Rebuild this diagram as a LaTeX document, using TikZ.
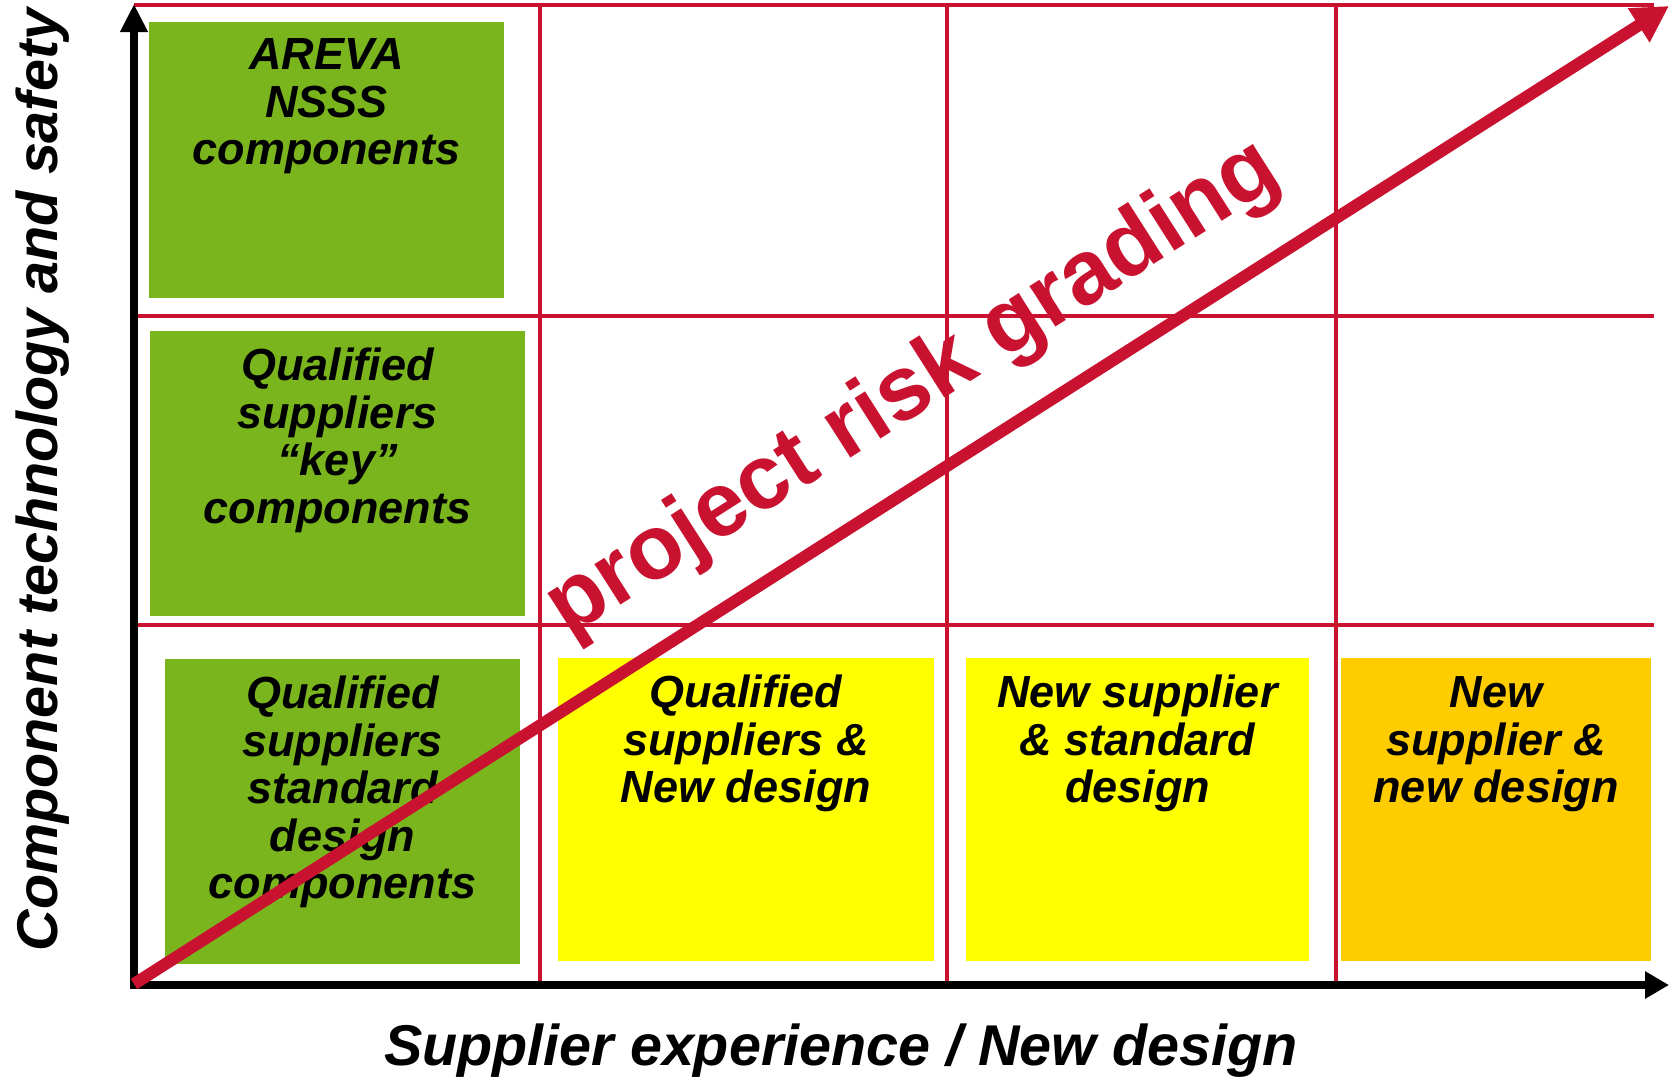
\documentclass[tikz,border=0pt]{standalone}
\usepackage{fontspec}
\setmainfont{Liberation Sans}
\usetikzlibrary{arrows.meta}
\definecolor{gridred}{RGB}{200,18,48}
\definecolor{boxgreen}{RGB}{122,181,29}
\definecolor{boxyellow}{RGB}{255,255,0}
\definecolor{boxorange}{RGB}{255,204,0}
\tikzset{
  gridline/.style={draw=gridred, line width=4.5pt},
  cell/.style={rectangle, draw=none, inner sep=0pt},
  celltext/.style={anchor=north, align=center, inner sep=0pt,
    font=\fontsize{45}{47.5}\selectfont\bfseries\itshape},
  axislabel/.style={inner sep=0pt, font=\fontsize{57.5}{60}\selectfont\bfseries\itshape},
  axisline/.style={line width=8pt, line join=miter, black},
  riskarrow/.style={draw=gridred, line width=12pt,
    -{Triangle[length=36pt,width=38pt]}},
}
\begin{document}
\begin{tikzpicture}[x=1pt,y=-1pt]
\useasboundingbox (0,0) rectangle (1669,1076);
% grid
\draw[gridline] (134,5) -- (1654,5);
\draw[gridline] (134,316) -- (1654,316);
\draw[gridline] (134,625) -- (1654,625);
\draw[gridline] (540,5) -- (540,984);
\draw[gridline] (947,5) -- (947,984);
\draw[gridline] (1336,5) -- (1336,984);
% boxes
\node[cell, fill=boxgreen, minimum width=355pt, minimum height=276pt] (areva) at (326.5,160) {};
\node[cell, fill=boxgreen, minimum width=375pt, minimum height=285pt] (key) at (337.5,473.5) {};
\node[cell, fill=boxgreen, minimum width=355pt, minimum height=305pt] (std) at (342.5,811.5) {};
\node[cell, fill=boxyellow, minimum width=376pt, minimum height=303pt] (qnew) at (746,809.5) {};
\node[cell, fill=boxyellow, minimum width=343pt, minimum height=303pt] (nstd) at (1137.5,809.5) {};
\node[cell, fill=boxorange, minimum width=310pt, minimum height=303pt] (nnew) at (1496,809.5) {};
% texts
\node[celltext] (arevat) at ([yshift=-17pt]areva.north) {AREVA\\NSSS\\components};
\node[celltext] (keyt) at ([yshift=-17pt]key.north) {Qualified\\suppliers\\“key”\\components};
\node[celltext] (stdt) at ([yshift=-17pt]std.north) {Qualified\\suppliers\\standard\\design\\components};
\node[celltext] (qnewt) at ([yshift=-17pt]qnew.north) {Qualified\\suppliers \&\\New design};
\node[celltext] (nstdt) at ([yshift=-17pt]nstd.north) {New supplier\\\& standard\\design};
\node[celltext] (nnewt) at ([yshift=-19pt]nnew.north) {New\\supplier \&\\new design};
% axes
\coordinate (ytop) at (134,4);
\coordinate (orig) at (134,985);
\coordinate (xend) at (1669,985);
\draw[axisline, {Triangle[length=28pt,width=26pt]}-{Triangle[length=24pt,width=26pt]}] (ytop) -- (orig) -- (xend);
\node[axislabel, rotate=90] (ylab) at (43,480) {Component technology and safety};
\node[axislabel] (xlab) at (841,1051) {Supplier experience / New design};
% risk arrow
\coordinate (rstart) at (134,984);
\coordinate (rend) at (1669,6);
\draw[riskarrow] (rstart) -- (rend);
\node[rotate=32.5, text=gridred, inner sep=0pt, font=\fontsize{91}{91}\selectfont\bfseries] (risk) at (914,390) {project risk grading};
\end{tikzpicture}
\end{document}
